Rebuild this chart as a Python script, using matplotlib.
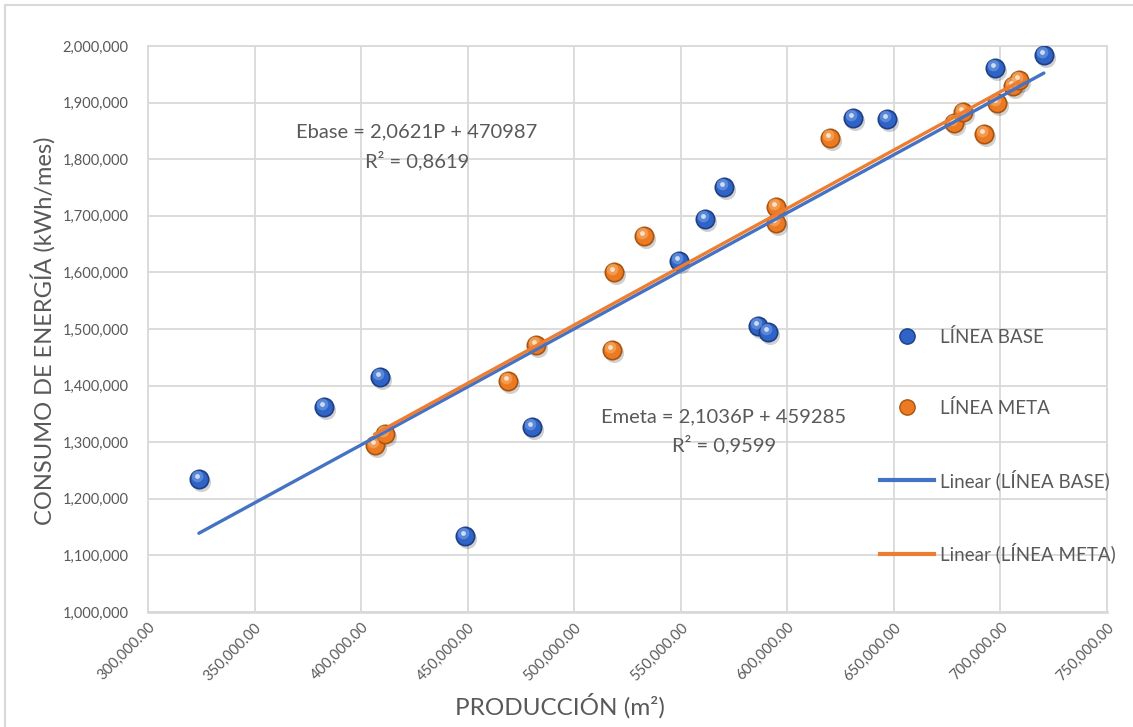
import numpy as np
import matplotlib
matplotlib.use("Agg")
import matplotlib.pyplot as plt
import matplotlib.transforms as mtransforms
from matplotlib.lines import Line2D
from matplotlib.patches import Rectangle
from matplotlib.ticker import FuncFormatter

# LÍNEA BASE (blue)
base_x = [323900, 382400, 409000, 448600, 480000, 549100, 561300, 570300,
          586300, 591000, 630900, 647000, 697400, 720400]
base_y = [1234500, 1362700, 1415700, 1134300, 1326300, 1620700, 1694300, 1751400,
          1505900, 1495300, 1872300, 1871000, 1960600, 1984100]

# LÍNEA META (orange)
meta_x = [406300, 411400, 468900, 482300, 517600, 518500, 532600, 594600,
          594600, 620000, 678300, 682300, 692300, 698200, 706000, 708800]
meta_y = [1295000, 1313900, 1408700, 1471700, 1462900, 1600100, 1664300, 1716100,
          1687900, 1836900, 1863400, 1884000, 1844500, 1898700, 1929900, 1939900]

# equation labels as printed on the chart
base_eq = ["Ebase = 2,0621P + 470987", "R² = 0,8619"]
meta_eq = ["Emeta = 2,1036P + 459285", "R² = 0,9599"]

GREY = "#595959"
GRID = "#D9D9D9"

plt.rcParams['font.family'] = ['Lato', 'DejaVu Sans']

fig = plt.figure(figsize=(11.33, 7.27), dpi=100)
ax = fig.add_axes([0.1306, 0.1582, 0.9770 - 0.1306, 0.9367 - 0.1582])

# chart border (left/top visible)
fig.patches.append(Rectangle((5 / 1133, -0.05), 1.2, 1 - 5 / 727 + 0.05,
                             transform=fig.transFigure, fill=False,
                             edgecolor=GRID, linewidth=1.5))


def spheres(x, y, color, dark, light):
    # fake 3D ball: shadow, body, highlight
    sh = mtransforms.offset_copy(ax.transData, fig=fig, x=2, y=-3, units='dots')
    hl = mtransforms.offset_copy(ax.transData, fig=fig, x=-2, y=3, units='dots')
    ax.scatter(x, y, s=190, color="#000000", alpha=0.18, linewidths=0,
               transform=sh, zorder=2)
    ax.scatter(x, y, s=175, color=color, edgecolors=dark, linewidths=1.2, zorder=3)
    ax.scatter(x, y, s=70, color=light, alpha=0.55, linewidths=0,
               transform=hl, zorder=4)
    ax.scatter(x, y, s=12, color="white", alpha=0.7, linewidths=0,
               transform=hl, zorder=4)


spheres(base_x, base_y, "#2F63C6", "#1C3F86", "#7DA8EC")
spheres(meta_x, meta_y, "#EC7A22", "#A9530F", "#F8B877")

# linear trendlines fitted to each series
bx = np.array([min(base_x), max(base_x)])
mx = np.array([min(meta_x), max(meta_x)])
bfit = np.polyfit(base_x, base_y, 1)
mfit = np.polyfit(meta_x, meta_y, 1)
ax.plot(bx, np.polyval(bfit, bx), color="#4472C4", lw=2.4, zorder=5,
        solid_capstyle='round')
ax.plot(mx, np.polyval(mfit, mx), color="#ED7D31", lw=2.4, zorder=6,
        solid_capstyle='round')

ax.set_xlim(300000, 750000)
ax.set_ylim(1000000, 2000000)
ax.set_xticks(np.arange(300000, 750001, 50000))
ax.set_yticks(np.arange(1000000, 2000001, 100000))
ax.xaxis.set_major_formatter(FuncFormatter(lambda v, p: f"{v:,.2f}"))
ax.yaxis.set_major_formatter(FuncFormatter(lambda v, p: f"{v:,.0f}"))
ax.grid(True, color=GRID, linewidth=1.3, zorder=0)
ax.set_axisbelow(True)
for s in ax.spines.values():
    s.set_color(GRID)
    s.set_linewidth(1.3)
ax.spines['bottom'].set_linewidth(2)
ax.tick_params(length=0, colors=GREY, labelsize=10.5)
ax.tick_params(axis='y', pad=14)
ax.tick_params(axis='x', pad=6)
for lab in ax.get_xticklabels():
    lab.set_rotation(45)
    lab.set_ha('right')
    lab.set_rotation_mode('anchor')

fig.text(560 / 1133, 1 - 706 / 727, "PRODUCCIÓN (m²)", ha='center', va='center',
         fontsize=17.5, color=GREY)
fig.text(43 / 1133, 1 - 331 / 727, "CONSUMO DE ENERGÍA (kWh/mes)", ha='center',
         va='center', rotation=90, fontsize=17, color=GREY)

fig.text(417 / 1133, 1 - 132 / 727, base_eq[0], ha='center',
         va='center', fontsize=14.5, color=GREY)
fig.text(417 / 1133, 1 - 161 / 727, base_eq[1], ha='center',
         va='center', fontsize=14.5, color=GREY)
fig.text(724 / 1133, 1 - 417 / 727, meta_eq[0], ha='center',
         va='center', fontsize=14.5, color=GREY)
fig.text(724 / 1133, 1 - 445 / 727, meta_eq[1], ha='center',
         va='center', fontsize=14.5, color=GREY)

handles = [
    Line2D([], [], ls='none', marker='o', ms=11, mfc="#2F63C6", mec="#1C3F86"),
    Line2D([], [], ls='none', marker='o', ms=11, mfc="#EC7A22", mec="#A9530F"),
    Line2D([], [], color="#4472C4", lw=3),
    Line2D([], [], color="#ED7D31", lw=3),
]
labels = ["LÍNEA BASE", "LÍNEA META", "Linear (LÍNEA BASE)", "Linear (LÍNEA META)"]
leg = fig.legend(handles, labels, loc='upper left',
                 bbox_to_anchor=(880 / 1133, 1 - 328 / 727),
                 frameon=False, fontsize=13.5, labelcolor=GREY,
                 handlelength=2.9, handletextpad=0.32, labelspacing=2.8,
                 borderpad=0, borderaxespad=0)

fig.savefig("out.png", dpi=100)
